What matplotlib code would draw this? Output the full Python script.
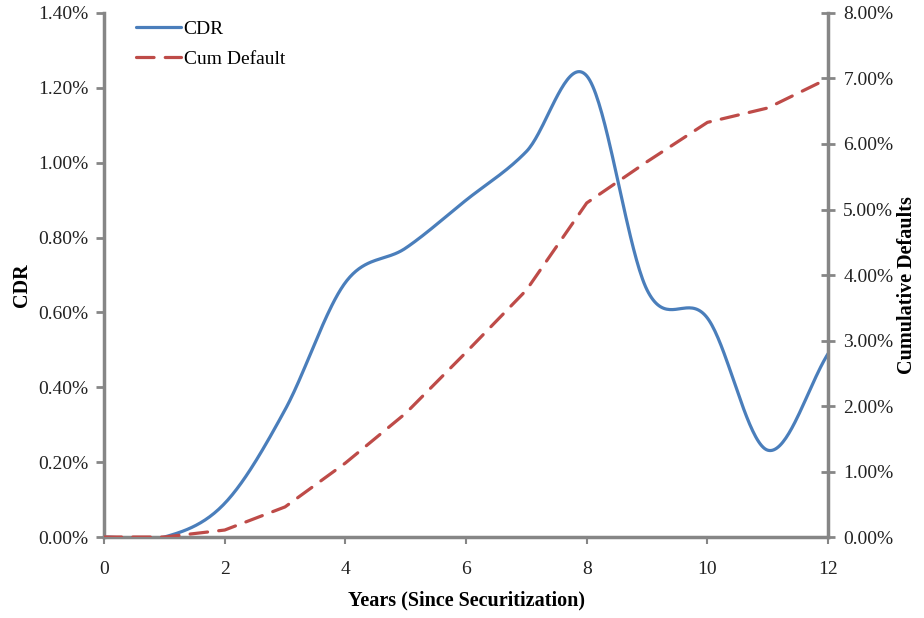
import numpy as np
import matplotlib.pyplot as plt
from matplotlib.ticker import PercentFormatter

# Dane (lata od sekurytyzacji)
years = [0, 1, 2, 3, 4, 5, 6, 7, 8, 9, 10, 11, 12]
cdr = [0.0, 0.0, 0.09, 0.34, 0.68, 0.772, 0.90, 1.03, 1.232, 0.66, 0.585, 0.232, 0.49]
cum_default = [0.0, 0.0, 0.107, 0.46, 1.13, 1.89, 2.82, 3.77, 5.10, 5.73, 6.33, 6.55, 7.0]

left_ticks = [0.0, 0.2, 0.4, 0.6, 0.8, 1.0, 1.2, 1.4]
right_ticks = [0, 1, 2, 3, 4, 5, 6, 7, 8]
x_ticks = [0, 2, 4, 6, 8, 10, 12]

BLUE = '#4A7EBB'
RED = '#BE4B48'
GRAY = '#868686'


# Wygladzanie linii jak w Excelu (spline Catmull-Rom)
def smooth(x, y, n=40):
    x = np.asarray(x, float)
    y = np.asarray(y, float)
    xs, ys = [], []
    for i in range(len(x) - 1):
        x0, x1 = x[i], x[i + 1]
        y0, y1 = y[i], y[i + 1]
        m0 = (y[i + 1] - y[i - 1]) / (x[i + 1] - x[i - 1]) if i > 0 else (y1 - y0) / (x1 - x0)
        m1 = (y[i + 2] - y[i]) / (x[i + 2] - x[i]) if i + 2 < len(x) else (y1 - y0) / (x1 - x0)
        t = np.linspace(0, 1, n, endpoint=False)
        h = x1 - x0
        h00 = 2 * t**3 - 3 * t**2 + 1
        h10 = t**3 - 2 * t**2 + t
        h01 = -2 * t**3 + 3 * t**2
        h11 = t**3 - t**2
        xs.append(x0 + t * h)
        ys.append(h00 * y0 + h10 * h * m0 + h01 * y1 + h11 * h * m1)
    xs.append([x[-1]])
    ys.append([y[-1]])
    return np.concatenate(xs), np.concatenate(ys)


plt.rcParams['font.family'] = ['Liberation Serif', 'DejaVu Serif']
plt.rcParams['font.size'] = 14

fig = plt.figure(figsize=(9.24, 6.18), dpi=100)
ax = fig.add_axes([0.1126, 0.131, 0.7836, 0.848])
ax2 = ax.twinx()

sx, sy = smooth(years, cdr)
l1, = ax.plot(sx, sy, color=BLUE, lw=2.3, solid_capstyle='round', label='CDR')
l2, = ax2.plot(years, cum_default, color=RED, lw=2.3, dashes=(5.5, 3.5),
               dash_capstyle='round', label='Cum Default')

ax.set_xlim(0, 12)
ax.set_ylim(0, 1.4)
ax2.set_ylim(0, 8)
ax.set_xticks(x_ticks)
ax.set_yticks(left_ticks)
ax2.set_yticks(right_ticks)
ax.yaxis.set_major_formatter(PercentFormatter(decimals=2))
ax2.yaxis.set_major_formatter(PercentFormatter(decimals=2))

for a in (ax, ax2):
    a.spines['top'].set_visible(False)
    for side in ('left', 'right', 'bottom'):
        a.spines[side].set_color(GRAY)
        a.spines[side].set_linewidth(2.5)
ax.spines['right'].set_visible(False)
ax2.spines['left'].set_visible(False)
ax2.spines['bottom'].set_visible(False)

ax.tick_params(axis='y', direction='out', length=6, width=2, color=GRAY, pad=5, labelcolor='#222222')
ax.tick_params(axis='x', direction='out', length=5, width=1.5, color=GRAY, pad=12, labelcolor='#222222')
ax2.tick_params(axis='y', direction='inout', length=10, width=2, color=GRAY, pad=6, labelcolor='#222222')

ax.set_xlabel('Years (Since Securitization)', fontweight='bold', fontsize=14.5, labelpad=9)
ax.set_ylabel('CDR', fontweight='bold', fontsize=14.5)
ax2.set_ylabel('Cumulative Defaults', fontweight='bold', fontsize=14.5)
ax2.yaxis.set_label_coords(1.095, 0.48)
ax.yaxis.set_label_coords(-0.1, 0.48)

ax.legend(handles=[l1, l2], loc='upper left', bbox_to_anchor=(0.02, 1.02), frameon=False,
          handlelength=2.3, handletextpad=0.15, labelspacing=0.65, fontsize=14)

fig.savefig('out.png', dpi=100)
